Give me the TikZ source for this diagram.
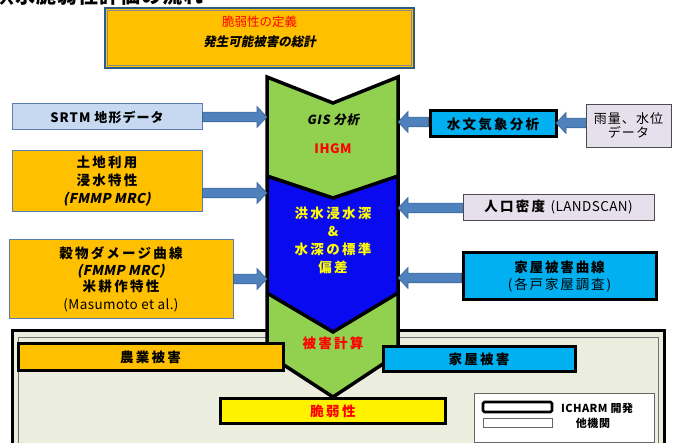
\documentclass[tikz,border=0pt]{standalone}
\usepackage{fontspec}
\setmainfont{Noto Sans CJK JP}
\newfontfamily\jpsl{Noto Sans CJK JP}[FakeSlant=0.2]
\usetikzlibrary{calc}
\definecolor{gold}{HTML}{FFC000}
\definecolor{cyanbox}{HTML}{00B0F0}
\definecolor{colgreen}{HTML}{92D050}
\definecolor{colblue}{HTML}{0A0AF0}
\definecolor{srtmblue}{HTML}{C6D9F1}
\definecolor{lav}{HTML}{E6E0EC}
\definecolor{arrowblue}{HTML}{4F81BD}
\definecolor{arrowedge}{HTML}{3A6496}
\definecolor{edgeblue}{HTML}{5B7DB1}
\definecolor{panelfill}{HTML}{EBEEDF}
\definecolor{topedge}{HTML}{2E5C8A}
\definecolor{txtyellow}{HTML}{FFFF00}
\newcommand{\blockarr}[2]{%
  \filldraw[barrow] let \p1=(#1), \p2=(#2), \p3=($(\p2)!10pt!(\x1,\y2)$) in
  (\x1,\y2+4.8pt) -- (\x3,\y2+4.8pt) -- (\x3,\y2+10.5pt) -- (\x2,\y2) --
  (\x3,\y2-10.5pt) -- (\x3,\y2-4.8pt) -- (\x1,\y2-4.8pt) -- cycle;}
\begin{document}
\begin{tikzpicture}[x=1pt,y=-1pt,line join=miter,
  box/.style={rectangle, inner sep=0pt, align=center},
  thickbox/.style={box, draw=black, line width=3pt},
  thinbox/.style={box, draw=edgeblue, line width=1pt},
  greybox/.style={box, draw=black!70, line width=0.8pt, fill=lav},
  jpb/.style={font=\fontsize{13.5}{18}\selectfont\bfseries\addfontfeature{LetterSpace=17}},
  barrow/.style={fill=arrowblue, draw=arrowedge, line width=0.6pt},
  colline/.style={line width=3.5pt, draw=black},
 ]
\useasboundingbox (0,0) rectangle (673,443);
\begin{scope}
\clip (0,0) rectangle (673,443);
% cut-off title
\node[anchor=base west, inner sep=0pt, font=\fontsize{20}{20}\selectfont\bfseries\addfontfeature{LetterSpace=5}] (title) at (-6,4) {洪水脆弱性評価の流れ};

% bottom panel
\draw[line width=3pt, fill=panelfill] (12,331) rectangle (664,460);
\draw[line width=0.6pt, draw=black!55] (18,337) rectangle (658,460);

% central column
\fill[colgreen] (267,77) -- (333,103) -- (398,77) -- (398,176) -- (333,198) -- (267,176) -- cycle;
\fill[colblue] (267,176) -- (333,198) -- (398,176) -- (398,293) -- (333,332) -- (267,293) -- cycle;
\fill[colgreen] (267,293) -- (333,332) -- (398,293) -- (398,354) -- (333,397) -- (267,354) -- cycle;
\draw[colline] (267,77) -- (333,103) -- (398,77) -- (398,354) -- (333,397) -- (267,354) -- cycle;
\draw[colline] (267,176) -- (333,198) -- (398,176);
\draw[colline] (267,293) -- (333,332) -- (398,293);
\node[box, font=\fontsize{12.5}{14}\selectfont\jpsl\bfseries\addfontfeature{LetterSpace=6}] (gis) at (333,120) {GIS 分析};
\node[box, text=red, font=\fontsize{13}{14}\selectfont\bfseries\addfontfeature{LetterSpace=4}] (ihgm) at (333,149) {IHGM};
\node[box, jpb, text=txtyellow] (depth) at (333,240.5) {洪水浸水深\\\&\\水深の標準\\偏差};
\node[box, jpb, text=red] (calc) at (333,343) {被害計算};

% column edge points for arrows
\coordinate (cl1) at (267,117);
\coordinate (cl2) at (267,193);
\coordinate (cl3) at (267,279);
\coordinate (cr1) at (398,122);
\coordinate (cr2) at (398,208);
\coordinate (cr3) at (398,278);
\coordinate (hy) at (556,123);

% top box
\node[box, fill=gold, draw=topedge, line width=1.5pt, minimum width=309, minimum height=60] (top) at (259.5,38) {};
\draw[draw=black!45, line width=1pt] ($(top.north west)+(3,3)$) rectangle ($(top.south east)+(-3,-3)$);
\node[box, text=red, font=\fontsize{12.5}{16}\selectfont] (deftext) at (259.5,22) {脆弱性の定義};
\node[box, font=\fontsize{12.5}{16}\selectfont\jpsl\bfseries] (sumtext) at (259.5,42) {発生可能被害の総計};

% left boxes
\node[box, fill=srtmblue, draw=edgeblue, line width=1pt, minimum width=190, minimum height=26, font=\fontsize{13}{14}\selectfont\bfseries\addfontfeature{LetterSpace=8}] (srtm) at (107,117) {SRTM 地形データ};
\node[thinbox, fill=gold, minimum width=190, minimum height=61, jpb] (land) at (107,181.5) {土地利用\\浸水特性\\{\jpsl\bfseries\addfontfeature{LetterSpace=2}(FMMP MRC)}};
\node[thinbox, fill=gold, minimum width=224, minimum height=79, jpb] (crop) at (121,279.5) {穀物ダメージ曲線\\[-1pt]{\jpsl\bfseries\addfontfeature{LetterSpace=2}(FMMP MRC)}\\[-2pt]米耕作特性\\{\mdseries\addfontfeature{LetterSpace=3}(Masumoto et al.)}};

% right boxes
\node[thickbox, fill=cyanbox, minimum width=126, minimum height=26, jpb] (hydro) at (493,124) {水文気象分析};
\node[greybox, minimum width=85, minimum height=43, font=\fontsize{13}{14.5}\selectfont\addfontfeature{LetterSpace=8}] (rain) at (628.5,125.5) {雨量、水位\\データ};
\node[greybox, minimum width=191, minimum height=26, jpb] (pop) at (558.5,207) {人口密度\ {\mdseries\addfontfeature{LetterSpace=3}(LANDSCAN)}};
\node[thickbox, fill=cyanbox, minimum width=193, minimum height=47, font=\fontsize{13.5}{17}\selectfont\addfontfeature{LetterSpace=14}] (house) at (559.5,276.5) {{\bfseries 家屋被害曲線}\\(各戸家屋調査)};

% bottom boxes
\node[thickbox, fill=gold, minimum width=265, minimum height=27, jpb] (agri) at (150.5,357.5) {農業被害};
\node[thickbox, fill=cyanbox, minimum width=192, minimum height=25, jpb] (hdmg) at (479,359) {家屋被害};
\node[thickbox, fill=yellow, minimum width=225, minimum height=25, jpb, text=red] (vuln) at (333,411.5) {脆弱性};

% legend
\node[box, fill=white, draw=black!60, line width=0.8pt, minimum width=180, minimum height=49] (legend) at (564,417.5) {};
\draw[line width=2.6pt, fill=white, rounded corners=1.5pt] (483,402) rectangle (552,412);
\draw[line width=0.7pt, draw=black!60, fill=white] (483,418) rectangle (552,427);
\node[box, font=\fontsize{11}{12}\selectfont\bfseries\addfontfeature{LetterSpace=4}] (lg1) at (597,408) {ICHARM 開発};
\node[box, font=\fontsize{11}{12}\selectfont\bfseries\addfontfeature{LetterSpace=6}] (lg2) at (593,423.5) {他機関};

% arrows
\blockarr{srtm.east |- cl1}{cl1}
\blockarr{land.east |- cl2}{cl2}
\blockarr{crop.east |- cl3}{cl3}
\blockarr{hydro.west |- cr1}{cr1}
\blockarr{rain.west |- hy}{hy}
\blockarr{pop.west |- cr2}{cr2}
\blockarr{house.west |- cr3}{cr3}
\end{scope}
\end{tikzpicture}
\end{document}
